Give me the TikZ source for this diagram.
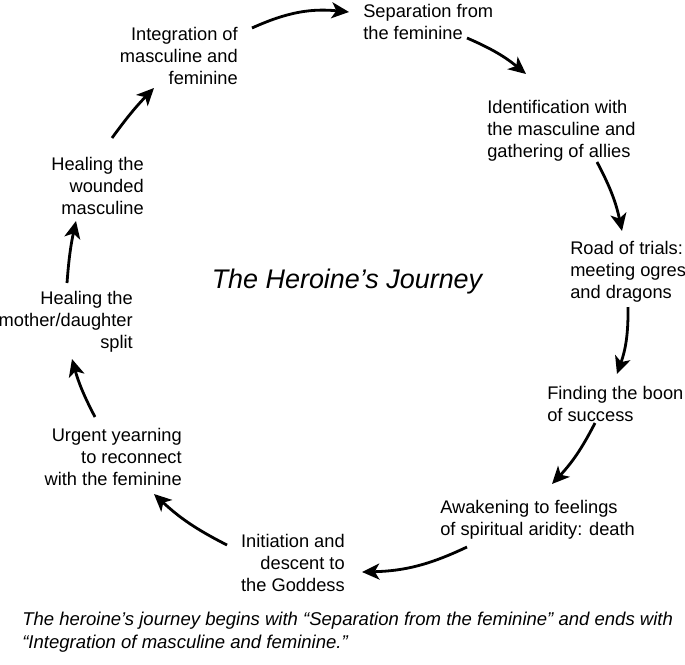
\documentclass[tikz,border=0pt]{standalone}
\usepackage{fontspec}
\setmainfont{Liberation Sans}
\usetikzlibrary{arrows.meta}
\tikzset{
  stage/.style={
    inner sep=0pt,
    font=\fontsize{13.7}{16.5}\selectfont
  },
  stageleft/.style={
    stage,
    align=left,
    anchor=north west
  },
  stageright/.style={
    stage,
    align=right,
    anchor=north east
  },
  journey/.style={
    -{Stealth[length=13pt,width=12pt,inset=3.5pt]},
    line width=2.1pt
  }
}

\begin{document}
\begin{tikzpicture}[x=0.75pt,y=0.75pt]
\useasboundingbox (0,0) rectangle (685,-664);

\node[stageleft] (sep) at (363,-4) {Separation from\\the feminine};
\node[stageleft] (ident) at (487,-100) {Identification with\\the masculine and\\gathering of allies};
\node[stageleft] (road) at (570,-241) {Road of trials:\\meeting ogres\\and dragons};
\node[stageleft] (boon) at (547,-386) {Finding the boon\\of success};
\node[stageleft] (awake) at (440,-500) {Awakening to feelings\\of spiritual aridity: death};
\node[stageright] (init) at (345,-534) {Initiation and\\descent to\\the Goddess};
\node[stageright] (urgent) at (182,-428) {Urgent yearning\\to reconnect\\with the feminine};
\node[stageright] (mother) at (133,-291) {Healing the\\mother/daughter\\split};
\node[stageright] (wounded) at (144,-157) {Healing the\\wounded\\masculine};
\node[stageright] (integ) at (238,-27) {Integration of\\masculine and\\feminine};

\node[font=\fontsize{20.2}{24}\selectfont\itshape] (title) at (347,-282) {The Heroine’s Journey};
\node[stageleft, font=\fontsize{13.9}{16.8}\selectfont\itshape] (caption) at (22,-612)
  {The heroine’s journey begins with “Separation from the feminine” and ends with\\“Integration of masculine and feminine.”};

% arrow ends
\coordinate (integOut) at (252,-28);
\coordinate (sepIn) at (349,-12);
\coordinate (sepOut) at (467,-38);
\coordinate (identIn) at (526,-74);
\coordinate (identOut) at (597,-162);
\coordinate (roadIn) at (622,-231);
\coordinate (roadOut) at (628,-307);
\coordinate (boonIn) at (617,-374);
\coordinate (boonOut) at (595,-423);
\coordinate (awakeIn) at (552,-484);
\coordinate (awakeOut) at (467,-547);
\coordinate (initIn) at (362,-572);
\coordinate (initOut) at (227,-545);
\coordinate (urgentIn) at (154,-494);
\coordinate (urgentOut) at (95,-417);
\coordinate (motherIn) at (72,-359);
\coordinate (motherOut) at (67,-283);
\coordinate (woundedIn) at (76,-221);
\coordinate (woundedOut) at (112,-138);
\coordinate (integIn) at (154,-88);

\draw[journey] (integOut) to[bend left=15] (sepIn);
\draw[journey] (sepOut) to[bend left=8] (identIn);
\draw[journey] (identOut) to[bend left=8] (roadIn);
\draw[journey] (roadOut) to[bend left=10] (boonIn);
\draw[journey] (boonOut) to[bend left=8] (awakeIn);
\draw[journey] (awakeOut) to[bend left=12] (initIn);
\draw[journey] (initOut) to[bend left=8] (urgentIn);
\draw[journey] (urgentOut) to[bend left=6] (motherIn);
\draw[journey] (motherOut) to[bend left=4] (woundedIn);
\draw[journey] (woundedOut) to[bend left=4] (integIn);
\end{tikzpicture}
\end{document}
